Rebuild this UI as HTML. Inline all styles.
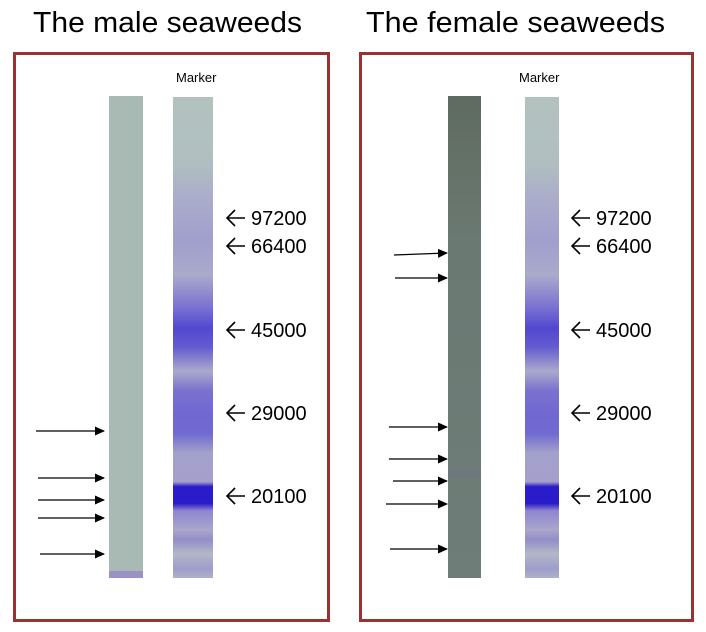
<!DOCTYPE html>
<html><head><style>
body{margin:0;background:#fff;}
svg{display:block;}
text{font-family:"Liberation Sans",sans-serif;}
</style></head><body>
<svg width="706" height="632" viewBox="0 0 706 632" xmlns="http://www.w3.org/2000/svg">
<defs>
<marker id="ah" markerWidth="10" markerHeight="9" refX="9" refY="4.5" orient="auto" markerUnits="userSpaceOnUse">
<path d="M0,0 L10,4.5 L0,9 Z" fill="#000"/>
</marker>
<linearGradient id="mk" x1="0" y1="97" x2="0" y2="578" gradientUnits="userSpaceOnUse">
<stop offset="0" stop-color="#b3c2bf"/>
<stop offset="0.14" stop-color="#b0bec0"/>
<stop offset="0.22" stop-color="#a9abcb"/>
<stop offset="0.3" stop-color="#a09fcd"/>
<stop offset="0.37" stop-color="#aaaacb"/>
<stop offset="0.44" stop-color="#7870d0"/>
<stop offset="0.48" stop-color="#5248d0"/>
<stop offset="0.52" stop-color="#645bd0"/>
<stop offset="0.57" stop-color="#aaa9cc"/>
<stop offset="0.61" stop-color="#7a72cf"/>
<stop offset="0.66" stop-color="#7068d0"/>
<stop offset="0.7" stop-color="#716ad1"/>
<stop offset="0.74" stop-color="#a3a1cb"/>
<stop offset="0.8" stop-color="#a4a0cb"/>
<stop offset="0.81" stop-color="#2a1cc8"/>
<stop offset="0.845" stop-color="#2a1cc8"/>
<stop offset="0.86" stop-color="#8e86cf"/>
<stop offset="0.9" stop-color="#aaa6cb"/>
<stop offset="0.92" stop-color="#948ecb"/>
<stop offset="0.95" stop-color="#b2b8c7"/>
<stop offset="0.98" stop-color="#a09ccb"/>
<stop offset="1" stop-color="#acb2c6"/>
</linearGradient>
<linearGradient id="fs" x1="0" y1="96" x2="0" y2="578" gradientUnits="userSpaceOnUse">
<stop offset="0" stop-color="#5f6b60"/>
<stop offset="0.3" stop-color="#6a7972"/>
<stop offset="1" stop-color="#6f7d78"/>
</linearGradient>
</defs>

<text x="33" y="32" font-size="29" fill="#000" textLength="269" lengthAdjust="spacingAndGlyphs">The male seaweeds</text>
<text x="366" y="32" font-size="29" fill="#000" textLength="299" lengthAdjust="spacingAndGlyphs">The female seaweeds</text>

<rect x="14.5" y="53.5" width="314" height="567" fill="none" stroke="#993333" stroke-width="3"/>
<rect x="360.5" y="53.5" width="332" height="567" fill="none" stroke="#993333" stroke-width="3"/>

<text x="176" y="82" font-size="13">Marker</text>
<text x="519" y="82" font-size="13">Marker</text>

<rect x="109" y="96" width="34" height="482" fill="#a9bab5"/>
<rect x="109" y="571" width="34" height="7" fill="#9a92c4"/>
<rect x="173" y="97" width="40" height="481" fill="url(#mk)"/>
<rect x="448" y="96" width="33" height="482" fill="url(#fs)"/>
<rect x="448" y="470" width="33" height="8" fill="#6f7482" opacity="0.6"/>
<rect x="525" y="97" width="34" height="481" fill="url(#mk)"/>

<g font-size="20" fill="#000">
<text x="251" y="225">97200</text>
<text x="251" y="253">66400</text>
<text x="251" y="337">45000</text>
<text x="251" y="420">29000</text>
<text x="251" y="503">20100</text>
<text x="596" y="225">97200</text>
<text x="596" y="253">66400</text>
<text x="596" y="337">45000</text>
<text x="596" y="420">29000</text>
<text x="596" y="503">20100</text>
</g>
<g stroke="#000" stroke-width="1.6" fill="none">
<path d="M227,218 H245 M235,210 L227,218 L235,226"/>
<path d="M227,246 H245 M235,238 L227,246 L235,254"/>
<path d="M227,330 H245 M235,322 L227,330 L235,338"/>
<path d="M227,413 H245 M235,405 L227,413 L235,421"/>
<path d="M227,496 H245 M235,488 L227,496 L235,504"/>
<path d="M572,218 H590 M580,210 L572,218 L580,226"/>
<path d="M572,246 H590 M580,238 L572,246 L580,254"/>
<path d="M572,330 H590 M580,322 L572,330 L580,338"/>
<path d="M572,413 H590 M580,405 L572,413 L580,421"/>
<path d="M572,496 H590 M580,488 L572,496 L580,504"/>
</g>

<g stroke="#000" stroke-width="1.2" marker-end="url(#ah)">
<line x1="36" y1="431" x2="104" y2="431"/>
<line x1="38" y1="478" x2="104" y2="478"/>
<line x1="38" y1="500" x2="104" y2="500"/>
<line x1="38" y1="518" x2="104" y2="518"/>
<line x1="40" y1="554" x2="104" y2="554"/>
<line x1="394" y1="255" x2="447" y2="253"/>
<line x1="395" y1="278" x2="447" y2="278"/>
<line x1="389" y1="427" x2="447" y2="427"/>
<line x1="389" y1="459" x2="447" y2="459"/>
<line x1="393" y1="481" x2="447" y2="481"/>
<line x1="386" y1="504" x2="447" y2="504"/>
<line x1="390" y1="549" x2="447" y2="549"/>
</g>
</svg>
</body></html>
